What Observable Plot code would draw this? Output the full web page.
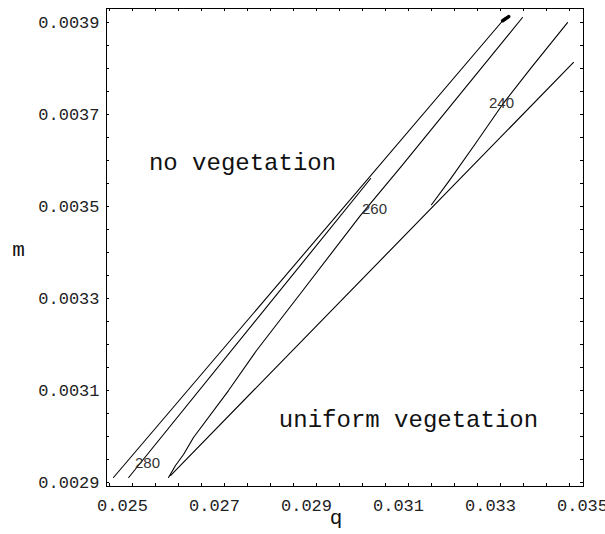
<!DOCTYPE html>
<html>
<head>
<meta charset="utf-8">
<script src="https://cdn.jsdelivr.net/npm/d3@7"></script>
<script src="https://cdn.jsdelivr.net/npm/@observablehq/plot@0.6"></script>
<style>
  html, body { margin: 0; padding: 0; background: #fff; }
  #chart svg { display: block; }
</style>
</head>
<body>
<div id="chart"></div>
<script>
// ---- Data (q, m) ----
const line1 = [[0.02500, 0.002900], [0.03352, 0.003900]];
const line2 = [[0.02533, 0.002900], [0.03059, 0.003550]];
const contour260 = [
  [0.026196, 0.002900], [0.026348, 0.002926], [0.026522, 0.002950],
  [0.026739, 0.002987], [0.027500, 0.003089], [0.028109, 0.003176],
  [0.029065, 0.003300], [0.030370, 0.003470], [0.031239, 0.003574],
  [0.033891, 0.003900]
];
const line4 = [[0.026239, 0.0029043], [0.035000, 0.0038022]];
const contour240 = [
  [0.031913, 0.003493], [0.032304, 0.003546], [0.032870, 0.003626],
  [0.033457, 0.003711], [0.034065, 0.003789], [0.034870, 0.003889]
];
const blob = [[0.03346, 0.003893], [0.03359, 0.003902]];

const contourLabels = ["280", "260", "240"];
const contourLabelQ = [0.025739, 0.030674, 0.033435];
const contourLabelM = [0.0029304, 0.0034826, 0.003713];

const regionLabels = ["no vegetation", "uniform vegetation"];
const regionLabelQ = [0.027804, 0.031413];
const regionLabelM = [0.003585, 0.003026];

const xTicks = [0.025, 0.027, 0.029, 0.031, 0.033, 0.035];
const yTicks = [0.0029, 0.0031, 0.0033, 0.0035, 0.0037, 0.0039];
const xMinor = [0.025, 0.0255, 0.026, 0.0265, 0.027, 0.0275, 0.028, 0.0285, 0.029, 0.0295,
  0.030, 0.0305, 0.031, 0.0315, 0.032, 0.0325, 0.033, 0.0335, 0.034, 0.0345, 0.035];
const yMinor = [0.0029, 0.00295, 0.0030, 0.00305, 0.0031, 0.00315, 0.0032, 0.00325, 0.0033, 0.00335,
  0.0034, 0.00345, 0.0035, 0.00355, 0.0036, 0.00365, 0.0037, 0.00375, 0.0038, 0.00385, 0.0039];

// ---- Build tables ----
const series = [
  ["l1", line1], ["l2", line2], ["c260", contour260], ["l4", line4], ["c240", contour240]
];
const lineData = series.flatMap(([k, pts]) => pts.map(([q, m]) => ({k, q, m})));
const blobData = blob.map(([q, m]) => ({q, m}));
const cLabels = contourLabels.map((t, i) => ({t, q: contourLabelQ[i], m: contourLabelM[i]}));
const rLabels = regionLabels.map((t, i) => ({t, q: regionLabelQ[i], m: regionLabelM[i]}));

const mono = "'Liberation Mono', 'DejaVu Sans Mono', monospace";
const sans = "'Liberation Sans', Arial, sans-serif";

const chart = Plot.plot({
  width: 605,
  height: 534,
  marginLeft: 106,
  marginRight: 22,
  marginTop: 8,
  marginBottom: 48,
  style: {background: "#fff", color: "#000", fontWeight: "normal"},
  x: {domain: [0.0248478, 0.0352174], label: null},
  y: {domain: [0.00288043, 0.00391957], label: null},
  marks: [
    Plot.frame({stroke: "#000", strokeWidth: 1}),
    // inward tick marks on all four sides
    Plot.tickX(xMinor, {x: d => d, insetTop: 475, dx: -4, stroke: "#000"}),
    Plot.tickX(xMinor, {x: d => d, insetBottom: 475, dx: -4, stroke: "#000"}),
    Plot.tickY(yMinor, {y: d => d, insetRight: 474, dy: 5, stroke: "#000"}),
    Plot.tickY(yMinor, {y: d => d, insetLeft: 474, dy: 5, stroke: "#000"}),
    // tick labels
    Plot.axisX(xTicks, {anchor: "bottom", tickSize: 0, tickPadding: 12, dx: 9,
      tickFormat: d3.format(".3f"), fontSize: 17, fontFamily: mono, label: null, fill: "#222"}),
    Plot.axisY(yTicks, {anchor: "left", tickSize: 0, tickPadding: 7, dy: 5,
      tickFormat: d3.format(".4f"), fontSize: 17, fontFamily: mono, label: null, fill: "#222"}),
    // axis titles
    Plot.text(["q"], {frameAnchor: "bottom", dx: -9, dy: 37, fontSize: 21, fontFamily: mono, fill: "#111"}),
    Plot.text(["m"], {frameAnchor: "left", dx: -88, dy: 2, fontSize: 21, fontFamily: mono, fill: "#111", textAnchor: "middle"}),
    // curves
    Plot.line(lineData, {x: "q", y: "m", z: "k", stroke: "#000", strokeWidth: 1.1}),
    Plot.line(blobData, {x: "q", y: "m", stroke: "#000", strokeWidth: 3.5}),
    // contour labels
    Plot.text(cLabels, {x: "q", y: "m", text: "t", fontSize: 15, fontFamily: sans, fill: "#333"}),
    // region labels
    Plot.text(rLabels, {x: "q", y: "m", text: "t", fontSize: 24, fontFamily: mono, fill: "#111"})
  ]
});
document.getElementById("chart").appendChild(chart);
</script>
</body>
</html>
